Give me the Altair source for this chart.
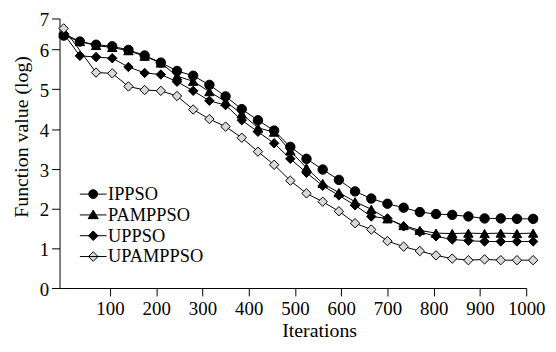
import altair as alt
import pandas as pd

# ---- data ----
iterations = [0, 35, 70, 105, 140, 175, 210, 245, 280, 315, 350, 385, 420, 455, 490,
              525, 560, 595, 630, 665, 700, 735, 770, 805, 840, 875, 910, 945, 980, 1015]
series_names = ["IPPSO", "PAMPPSO", "UPPSO", "UPAMPPSO"]
ippso = [6.35, 6.20, 6.12, 6.08, 5.99, 5.85, 5.67, 5.46, 5.34, 5.11, 4.82, 4.50, 4.22, 3.96, 3.55,
         3.25, 2.98, 2.72, 2.43, 2.25, 2.12, 2.02, 1.91, 1.86, 1.84, 1.80, 1.75, 1.75, 1.74, 1.74]
pamppso = [6.40, 6.20, 6.10, 6.05, 5.97, 5.83, 5.66, 5.33, 5.20, 4.94, 4.69, 4.38, 4.03, 3.92, 3.45,
           3.02, 2.63, 2.40, 2.17, 1.98, 1.74, 1.57, 1.45, 1.38, 1.37, 1.38, 1.37, 1.38, 1.37, 1.38]
uppso = [6.40, 5.84, 5.81, 5.78, 5.56, 5.41, 5.37, 5.19, 4.96, 4.71, 4.60, 4.22, 3.93, 3.64, 3.25,
         2.90, 2.57, 2.33, 2.08, 1.80, 1.75, 1.55, 1.41, 1.30, 1.22, 1.19, 1.17, 1.17, 1.17, 1.17]
upamppso = [6.53, None, 5.42, 5.40, 5.07, 4.98, 4.96, 4.83, 4.49, 4.25, 4.06, 3.78, 3.43, 3.10, 2.70,
            2.38, 2.17, 1.93, 1.63, 1.47, 1.18, 1.04, 0.93, 0.82, 0.74, 0.70, 0.72, 0.70, 0.70, 0.70]
x_ticks = [100, 200, 300, 400, 500, 600, 700, 800, 900, 1000]
y_ticks = [0, 1, 2, 3, 4, 5, 6, 6.78]   # top tick of the axis is labelled "7" in the reference
fills = ["black", "black", "black", "#d9d9d9"]

rows = []
for name, vals in zip(series_names, [ippso, pamppso, uppso, upamppso]):
    for t, v in zip(iterations, vals):
        if v is not None:
            rows.append({"iter": t, "value": v, "series": name})
df = pd.DataFrame(rows)

FONT = "Liberation Serif"

x_enc = alt.X("iter:Q", scale=alt.Scale(domain=[-9, 1000], nice=False, zero=False),
              axis=alt.Axis(values=x_ticks, format="d", title="Iterations", titleX=262, titleY=49,
                            titleBaseline="alphabetic", titleAlign="center",
                            tickSize=8, labelPadding=4, labelFontSize=19, labelOverlap=False,
                            labelFlush=False, titleFontSize=20))
y_enc = alt.Y("value:Q", scale=alt.Scale(domain=[0, 6.78], nice=False),
              axis=alt.Axis(values=y_ticks, title="Function value (log)",
                            labelExpr="datum.value > 6.5 ? '7' : format(datum.value, 'd')",
                            titleAngle=270, titleX=-32, titleY=119, titleAlign="center",
                            titleBaseline="alphabetic", tickSize=8, labelPadding=3,
                            labelOffset=1.5, labelFontSize=19, labelOverlap=False,
                            labelFlush=False, titleFontSize=20))

base = alt.Chart(df)

lines = base.mark_line(color="black", strokeWidth=1).encode(
    x=x_enc, y=y_enc, detail="series:N")

points = base.mark_point(filled=True, size=90, stroke="black", strokeWidth=1, opacity=1).encode(
    x=x_enc, y=y_enc,
    shape=alt.Shape("series:N", scale=alt.Scale(domain=series_names,
                    range=["circle", "triangle-up", "diamond", "diamond"]), legend=None),
    fill=alt.Fill("series:N", scale=alt.Scale(domain=series_names, range=fills), legend=None),
)

leg_paths = [
    "M-1,0H1M0.33,0A0.33,0.33 0 1,1 -0.33,0A0.33,0.33 0 1,1 0.33,0Z",
    "M-1,0H1M0,-0.36L0.38,0.28L-0.38,0.28Z",
    "M-1,0H1M0,-0.36L0.36,0L0,0.36L-0.36,0Z",
    "M-1,0H1M0,-0.36L0.36,0L0,0.36L-0.36,0Z",
]

leg = alt.Legend(title=None, orient="none", legendX=20, legendY=167,
                 symbolSize=729, symbolOpacity=1, symbolStrokeWidth=1,
                 clipHeight=20.5, rowPadding=0, padding=0, labelOffset=1,
                 labelFont=FONT, labelFontSize=18.5, labelColor="black")

legend_layer = base.mark_point(filled=True, size=729, opacity=0).encode(
    x=x_enc, y=y_enc,
    shape=alt.Shape("series:N", scale=alt.Scale(domain=series_names, range=leg_paths), legend=leg),
    fill=alt.Fill("series:N", scale=alt.Scale(domain=series_names, range=fills), legend=leg),
    stroke=alt.Stroke("series:N", scale=alt.Scale(domain=series_names,
                      range=["black", "black", "black", "black"]), legend=leg),
)

chart = alt.layer(lines, points, legend_layer).resolve_scale(
    shape="independent", fill="independent", stroke="independent"
).properties(
    width=471, height=272,
    autosize=alt.AutoSizeParams(type="none"),
    padding={"left": 52, "top": 9, "right": 22, "bottom": 62},
).configure_view(stroke=None).configure_axis(
    grid=False, domainColor="black", tickColor="black", labelColor="black",
    titleColor="black", titleFontWeight="normal", labelFont=FONT, titleFont=FONT,
    domainWidth=1, tickWidth=1,
)

chart.save("out.html", embed_options={"renderer": "svg", "actions": False})
